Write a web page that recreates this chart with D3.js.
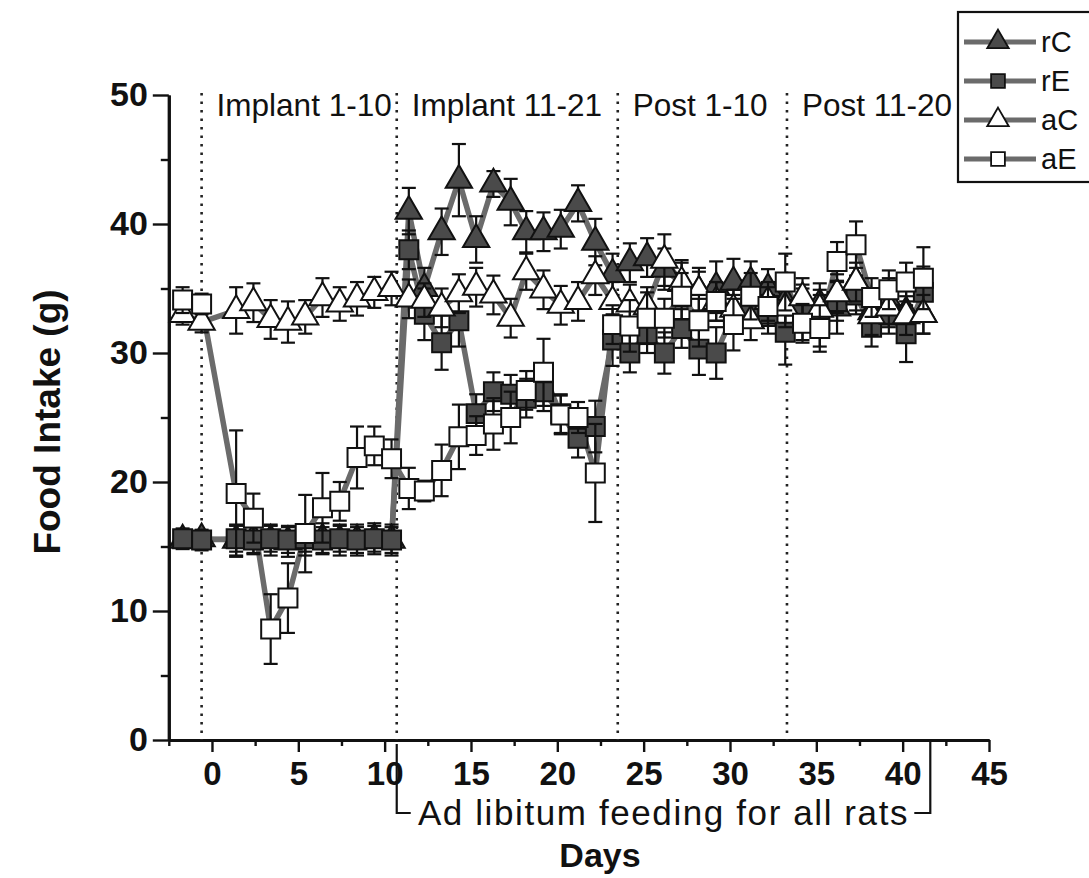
<!DOCTYPE html>
<html><head><meta charset="utf-8">
<script src="https://cdn.jsdelivr.net/npm/d3@7"></script>
<style>body{margin:0;background:#fff} svg{display:block}</style>
</head><body>
<svg id="c" width="1089" height="878"></svg>
<script>
// ---- data ----
const days = [-1.7, -0.6, 1.4, 2.4, 3.4, 4.4, 5.4, 6.4, 7.4, 8.4, 9.4, 10.4, 11.4, 12.3, 13.3, 14.3, 15.3, 16.3, 17.3, 18.2, 19.2, 20.2, 21.2, 22.2, 23.2, 24.2, 25.2, 26.2, 27.2, 28.2, 29.2, 30.2, 31.2, 32.2, 33.2, 34.2, 35.2, 36.2, 37.3, 38.2, 39.2, 40.2, 41.2];
const rC = [15.5, 15.6,
  15.5, 15.6, 15.5, 15.4, 15.5, 15.6, 15.5, 15.5, 15.6, 15.5,
  41.0, 35.0, 39.4, 43.4, 38.8, 43.1, 41.7, 39.4, 39.4, 39.6, 41.6, 38.6,
  36.1, 37.0, 37.4, 36.5, 35.4, 34.8, 35.1, 35.5, 35.5, 35.0, 34.0, 33.5, 33.8, 33.5, 35.5, 33.2, 34.0, 33.2, 33.0];
const rCerr = [0.6, 0.6,
  1.2, 1.2, 1.2, 1.2, 1.2, 1.2, 1.2, 1.2, 1.2, 1.2,
  1.8, 1.6, 1.8, 2.8, 1.8, 1.0, 1.8, 1.6, 1.5, 1.5, 1.4, 1.8,
  1.6, 1.5, 1.5, 1.6, 1.8, 1.8, 2.0, 1.8, 1.6, 1.5, 1.8, 1.8, 1.6, 2.0, 2.2, 1.8, 1.8, 1.6, 1.5];
const rE = [15.6, 15.5,
  15.6, 15.5, 15.6, 15.5, 15.6, 15.5, 15.6, 15.5, 15.6, 15.5,
  38.0, 33.0, 30.8, 32.5, 25.3, 27.0, 26.8, 26.5, 27.0, 25.3, 23.4, 24.3,
  31.0, 30.0, 31.5, 30.0, 31.9, 30.3, 30.0, 33.0, 33.5, 33.0, 31.6, 33.0, 32.5, 34.0, 34.5, 32.0, 33.0, 31.5, 34.7];
const rEerr = [0.8, 0.8,
  1, 1, 1, 1, 1, 1, 1, 1, 1, 1,
  1.5, 2.0, 2.1, 2.0, 1.5, 1.5, 1.5, 1.5, 1.5, 1.5, 1.5, 2.0,
  2.0, 1.5, 1.5, 1.6, 1.5, 2.0, 2.0, 1.5, 1.5, 1.5, 2.5, 2.0, 2.0, 1.5, 1.5, 1.5, 1.5, 2.2, 2.0];
const aC = [33.0, 32.4,
  33.3, 33.9, 32.6, 32.4, 32.8, 34.3, 33.8, 34.2, 34.7, 35.0,
  34.2, 34.1, 33.5, 34.6, 35.1, 34.5, 32.7, 36.3, 34.9, 33.7, 34.0, 36.0,
  34.0, 33.8, 33.6, 37.2, 35.5, 34.8, 34.0, 33.4, 32.5, 34.0, 33.5, 34.3, 33.4, 34.6, 35.5, 32.9, 33.5, 32.9, 33.0];
const aCerr = [0.8, 0.8,
  1.8, 1.5, 1.5, 1.6, 1.3, 1.5, 1.3, 1.3, 1.2, 1.3,
  1.5, 1.3, 1.5, 1.5, 1.5, 1.5, 1.5, 1.4, 1.5, 1.5, 1.5, 1.5,
  1.5, 1.5, 1.5, 2.0, 1.5, 1.5, 1.5, 1.5, 1.5, 1.5, 1.5, 1.5, 1.5, 1.5, 1.5, 1.5, 1.5, 1.5, 1.5];
const aE = [34.1, 33.8,
  19.1, 17.2, 8.6, 11.0, 16.0, 18.0, 18.5, 21.9, 22.8, 21.8,
  19.5, 19.3, 20.9, 23.5, 23.6, 24.5, 25.0, 27.1, 28.5, 25.2, 25.0, 20.7,
  32.2, 32.1, 32.7, 32.7, 34.4, 32.5, 34.0, 32.2, 34.4, 33.6, 35.5, 32.3, 31.9, 37.1, 38.4, 34.3, 34.9, 35.5, 35.8];
const aEerr = [1.0, 0.8,
  4.9, 1.9, 2.7, 2.7, 3.0, 2.7, 1.5, 2.4, 1.5, 1.5,
  1.6, 0.8, 2.0, 2.5, 1.5, 2.0, 2.0, 1.5, 2.6, 1.5, 1.2, 3.8,
  1.5, 2.0, 2.0, 1.5, 1.8, 2.0, 1.5, 2.0, 1.8, 1.5, 2.2, 1.5, 1.8, 1.5, 1.8, 1.5, 1.5, 1.5, 2.4];

const seriesNames = ["rC", "rE", "aC", "aE"];
const xTicks = [0, 5, 10, 15, 20, 25, 30, 35, 40, 45];
const xMinor = [-2.5, 2.5, 7.5, 12.5, 17.5, 22.5, 27.5, 32.5, 37.5, 42.5];
const yTicks = [0, 10, 20, 30, 40, 50];
const yMinor = [5, 15, 25, 35, 45];
const phaseBounds = [-0.6, 10.7, 23.5, 33.3];
const phaseLabels = ["Implant 1-10", "Implant 11-21", "Post 1-10", "Post 11-20"];
const adLibRange = [10.7, 41.6];
const adLibText = "Ad libitum feeding for all rats";

// ---- setup ----
const FONT = "'Liberation Sans', Arial, Helvetica, sans-serif";
const svg = d3.select("#c");
const x = d3.scaleLinear().domain([-2.5, 45]).range([168.8, 989]);
const y = d3.scaleLinear().domain([0, 50]).range([740, 95]);
const LINE = "#6b6b6b", DARK = "#4a4a4a";

// axes
function styleAxis(g, w) {
  g.selectAll("path.domain").attr("stroke", "#111").attr("stroke-width", w);
  g.selectAll(".tick line").attr("stroke", "#111").attr("stroke-width", 2.4);
  g.selectAll(".tick text").attr("font-family", FONT).attr("font-weight", "bold")
    .attr("font-size", 33).attr("fill", "#111");
}
const gx = svg.append("g").attr("transform", "translate(0,740)")
  .call(d3.axisBottom(x).tickValues(xTicks).tickSize(12).tickSizeOuter(0).tickPadding(10));
styleAxis(gx, 3);
const gxm = svg.append("g").attr("transform", "translate(0,740)")
  .call(d3.axisBottom(x).tickValues(xMinor).tickSize(6).tickSizeOuter(0).tickFormat(""));
styleAxis(gxm, 3);
const gy = svg.append("g").attr("transform", `translate(${x(-2.5)},0)`)
  .call(d3.axisLeft(y).tickValues(yTicks).tickSize(16).tickSizeOuter(0).tickPadding(5));
styleAxis(gy, 3);
gy.selectAll(".tick text").attr("font-size", 34);
const gym = svg.append("g").attr("transform", `translate(${x(-2.5)},0)`)
  .call(d3.axisLeft(y).tickValues(yMinor).tickSize(8).tickSizeOuter(0).tickFormat(""));
styleAxis(gym, 3);

// phase dotted lines and labels
svg.append("g").selectAll("line").data(phaseBounds).join("line")
  .attr("x1", d => x(d)).attr("x2", d => x(d))
  .attr("y1", y(50) - 2).attr("y2", y(0))
  .attr("stroke", "#222").attr("stroke-width", 2.6).attr("stroke-dasharray", "2.5,6");
svg.append("g").selectAll("text").data(phaseLabels).join("text")
  .attr("x", (d, i) => x(phaseBounds[i]) + 15)
  .attr("y", y(50) + 21)
  .attr("font-family", FONT).attr("font-size", 31.5).attr("fill", "#111")
  .text(d => d);

// series
const series = [
  {name: "rC", v: rC, e: rCerr, type: d3.symbolTriangle, fill: DARK, size: 300},
  {name: "rE", v: rE, e: rEerr, type: d3.symbolSquare, fill: DARK, size: 360},
  {name: "aC", v: aC, e: aCerr, type: d3.symbolTriangle, fill: "#fff", size: 300},
  {name: "aE", v: aE, e: aEerr, type: d3.symbolSquare, fill: "#fff", size: 360}
];
const line = d3.line().x(d => x(d[0])).y(d => y(d[1]));
const gl = svg.append("g");
series.forEach(s => {
  gl.append("path").datum(days.map((d, i) => [d, s.v[i]]))
    .attr("d", line).attr("fill", "none").attr("stroke", LINE)
    .attr("stroke-width", 5.5).attr("stroke-linejoin", "round");
});
series.forEach(s => {
  const g = svg.append("g");
  const pts = days.map((d, i) => ({d, v: s.v[i], e: s.e[i]}));
  const eb = g.append("g").attr("stroke", "#111").attr("stroke-width", 2.2);
  eb.selectAll("line.v").data(pts).join("line").attr("class", "v")
    .attr("x1", p => x(p.d)).attr("x2", p => x(p.d))
    .attr("y1", p => y(p.v - p.e)).attr("y2", p => y(p.v + p.e));
  eb.selectAll("line.t").data(pts).join("line").attr("class", "t")
    .attr("x1", p => x(p.d) - 7).attr("x2", p => x(p.d) + 7)
    .attr("y1", p => y(p.v + p.e)).attr("y2", p => y(p.v + p.e));
  eb.selectAll("line.b").data(pts).join("line").attr("class", "b")
    .attr("x1", p => x(p.d) - 7).attr("x2", p => x(p.d) + 7)
    .attr("y1", p => y(p.v - p.e)).attr("y2", p => y(p.v - p.e));
  g.selectAll("path").data(pts).join("path")
    .attr("transform", p => `translate(${x(p.d)},${y(p.v)})`)
    .attr("d", d3.symbol().type(s.type).size(s.size))
    .attr("fill", s.fill).attr("stroke", "#111").attr("stroke-width", 2);
});

// ad libitum bracket
const brY = 813;
const gb = svg.append("g").attr("stroke", "#111").attr("stroke-width", 2.2).attr("fill", "none");
gb.append("path").attr("d", `M${x(adLibRange[0])},744 V${brY} H${x(adLibRange[0]) + 14}`);
gb.append("path").attr("d", `M${x(adLibRange[1])},742 V${brY} H${x(adLibRange[1]) - 16}`);
svg.append("text").attr("x", (x(adLibRange[0]) + x(adLibRange[1])) / 2).attr("y", 825)
  .attr("text-anchor", "middle").attr("font-family", FONT).attr("font-size", 35)
  .attr("letter-spacing", 1.6)
  .attr("fill", "#111").text(adLibText);

// axis titles
svg.append("text").attr("x", 600).attr("y", 867).attr("text-anchor", "middle")
  .attr("font-family", FONT).attr("font-weight", "bold").attr("font-size", 34)
  .attr("fill", "#111").text("Days");
svg.append("text").attr("transform", "translate(60,422) rotate(-90)")
  .attr("text-anchor", "middle").attr("font-family", FONT).attr("font-weight", "bold")
  .attr("font-size", 37).attr("fill", "#111").text("Food Intake (g)");

// legend
const lg = svg.append("g");
lg.append("rect").attr("x", 958).attr("y", 12).attr("width", 150).attr("height", 170)
  .attr("fill", "#fff").attr("stroke", "#111").attr("stroke-width", 2.2);
series.forEach((s, i) => {
  const cy = 42 + i * 39;
  lg.append("line").attr("x1", 964).attr("x2", 1036).attr("y1", cy).attr("y2", cy)
    .attr("stroke", LINE).attr("stroke-width", 5);
  lg.append("path").attr("transform", `translate(998,${cy})`)
    .attr("d", d3.symbol().type(s.type).size(s.type === d3.symbolTriangle ? 200 : 190))
    .attr("fill", s.fill).attr("stroke", "#111").attr("stroke-width", 1.8);
  lg.append("text").attr("x", 1041).attr("y", cy + 10).attr("font-family", FONT)
    .attr("font-size", 29).attr("fill", "#111").text(s.name);
});
</script>
</body></html>
